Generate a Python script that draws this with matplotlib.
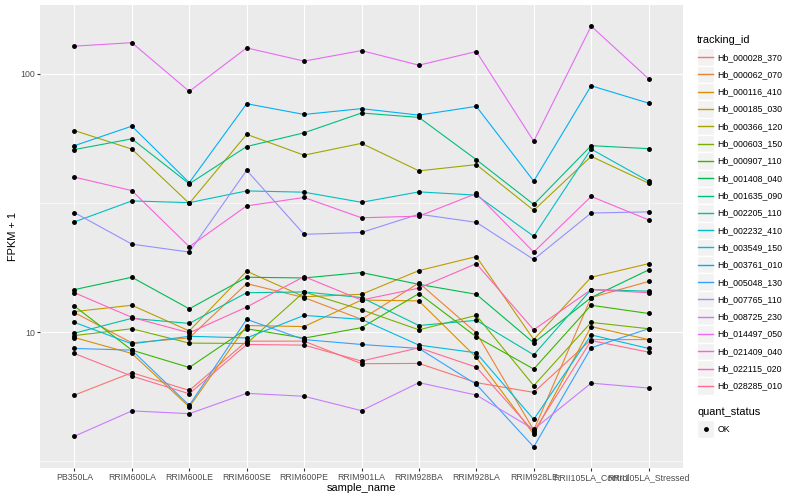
import matplotlib
matplotlib.use("Agg")
import matplotlib.pyplot as plt
from matplotlib.lines import Line2D
from matplotlib.patches import Rectangle
from matplotlib.legend_handler import HandlerBase
from matplotlib.ticker import FixedLocator, NullFormatter

plt.rcParams['font.family'] = ['Liberation Sans', 'DejaVu Sans']

# sample names on the x axis
samples = ["PB350LA", "RRIM600LA", "RRIM600LE", "RRIM600SE", "RRIM600PE",
           "RRIM901LA", "RRIM928BA", "RRIM928LA", "RRIM928LE",
           "RRII105LA_Control", "RRII105LA_Stressed"]

tracking_ids = ["Hb_000028_370", "Hb_000062_070", "Hb_000116_410", "Hb_000185_030",
                "Hb_000366_120", "Hb_000603_150", "Hb_000907_110", "Hb_001408_040",
                "Hb_001635_090", "Hb_002205_110", "Hb_002232_410", "Hb_003549_150",
                "Hb_003761_010", "Hb_005048_130", "Hb_007765_110", "Hb_008725_230",
                "Hb_014497_050", "Hb_021409_040", "Hb_022115_020", "Hb_028285_010"]

# FPKM + 1 per gene, same order as samples
hb_000028_370 = [5.70, 6.96, 5.94, 9.22, 9.22, 7.54, 7.56, 6.37, 5.84, 9.35, 9.35]
hb_000062_070 = [11.9, 9.08, 9.49, 15.4, 13.6, 11.2, 15.5, 9.93, 4.17, 13.6, 15.7]
hb_000116_410 = [9.52, 8.26, 5.13, 10.6, 10.5, 13.3, 13.2, 7.97, 4.02, 10.5, 9.35]
hb_000185_030 = [12.0, 12.7, 10.1, 17.2, 13.7, 14.0, 17.3, 19.6, 9.35, 16.3, 18.4]
hb_000366_120 = [60.3, 51.1, 31.5, 58.3, 48.4, 53.8, 42.1, 44.5, 29.6, 47.9, 37.7]
hb_000603_150 = [9.69, 10.3, 9.06, 9.03, 14.3, 12.2, 10.2, 11.6, 6.20, 10.9, 10.3]
hb_000907_110 = [12.6, 8.51, 7.29, 10.3, 9.47, 10.4, 14.1, 9.58, 7.19, 12.7, 11.8]
hb_001408_040 = [14.6, 16.3, 12.3, 16.3, 16.2, 17.0, 15.3, 14.0, 9.08, 13.6, 17.4]
hb_001635_090 = [50.9, 56.0, 37.5, 52.3, 59.1, 70.5, 67.8, 46.5, 31.2, 52.7, 51.3]
hb_002205_110 = [9.90, 11.3, 10.8, 14.2, 14.3, 13.6, 10.6, 11.1, 8.16, 14.6, 14.4]
hb_002232_410 = [26.7, 32.2, 31.7, 35.2, 34.8, 31.8, 34.9, 33.9, 23.5, 51.1, 38.4]
hb_003549_150 = [10.9, 9.00, 9.63, 9.49, 11.6, 11.2, 8.90, 8.31, 4.59, 9.75, 8.64]
hb_003761_010 = [52.7, 62.7, 37.9, 76.6, 69.6, 73.3, 69.2, 74.8, 38.4, 89.9, 77.0]
hb_005048_130 = [8.64, 8.51, 5.20, 11.2, 9.35, 8.95, 8.64, 6.27, 3.59, 8.69, 10.3]
hb_007765_110 = [29.0, 21.9, 20.4, 42.3, 23.9, 24.3, 28.6, 26.6, 19.1, 28.9, 29.2]
hb_008725_230 = [3.95, 4.95, 4.83, 5.79, 5.64, 4.96, 6.37, 5.70, 4.20, 6.34, 6.07]
hb_014497_050 = [128, 132, 85.5, 126, 112, 123, 108, 122, 54.8, 153, 95.7]
hb_021409_040 = [39.8, 35.3, 21.4, 30.8, 33.2, 27.7, 28.1, 34.4, 20.4, 33.5, 27.2]
hb_022115_020 = [14.2, 11.4, 9.93, 12.5, 16.4, 13.3, 14.8, 18.4, 10.2, 14.6, 14.2]
hb_028285_010 = [8.26, 6.75, 5.77, 8.95, 8.90, 7.72, 8.69, 7.31, 4.11, 9.27, 8.36]

series = [hb_000028_370, hb_000062_070, hb_000116_410, hb_000185_030, hb_000366_120,
          hb_000603_150, hb_000907_110, hb_001408_040, hb_001635_090, hb_002205_110,
          hb_002232_410, hb_003549_150, hb_003761_010, hb_005048_130, hb_007765_110,
          hb_008725_230, hb_014497_050, hb_021409_040, hb_022115_020, hb_028285_010]

# ggplot default hue palette for 20 levels
colors = ["#F8766D", "#EA8331", "#D89000", "#C09B00", "#A3A500", "#7CAE00", "#39B600",
          "#00BB4E", "#00BF7D", "#00C1A3", "#00BFC4", "#00BAE0", "#00B0F6", "#35A2FF",
          "#9590FF", "#C77CFF", "#E76BF3", "#FA62DB", "#FF62BC", "#FF6C91"]


# legend key like ggplot: grey square with a line or a point on it
class KeyHandler(HandlerBase):
    def create_artists(self, legend, orig_handle, xdescent, ydescent,
                       width, height, fontsize, trans):
        x0, y0 = -xdescent, -ydescent
        rect = Rectangle((x0, y0), width, height, facecolor="#F2F2F2",
                         edgecolor="white", lw=1.0, transform=trans)
        if orig_handle.get_marker() not in (None, "None", ""):
            mark = Line2D([x0 + width / 2], [y0 + height / 2], marker="o",
                          markersize=2.5, color="black", linestyle="None",
                          transform=trans)
        else:
            mark = Line2D([x0 + width * 0.06, x0 + width * 0.94],
                          [y0 + height / 2, y0 + height / 2],
                          color=orig_handle.get_color(), lw=1.0, transform=trans)
        return [rect, mark]


fig = plt.figure(figsize=(8, 5), dpi=100)
ax = fig.add_axes([40 / 800, 32 / 500, 643 / 800, 463 / 500])
ax.set_facecolor("#EBEBEB")

x = list(range(len(samples)))
for vals, col, name in zip(series, colors, tracking_ids):
    ax.plot(x, vals, color=col, lw=0.8, label=name, zorder=2)
for vals in series:
    ax.plot(x, vals, linestyle="None", marker="o", markersize=2.5,
            color="black", zorder=3)

ax.set_yscale("log")
ax.set_xlim(-0.6, len(samples) - 0.4)
ax.set_ylim(10 ** 0.4735, 10 ** 2.2665)
ax.set_xticks(x)
ax.set_xticklabels(samples)
ax.yaxis.set_major_locator(FixedLocator([10, 100]))
ax.set_yticklabels(["10", "100"])
ax.yaxis.set_minor_locator(FixedLocator([10 ** 0.5, 10 ** 1.5, 10 ** 2.5]))
ax.yaxis.set_minor_formatter(NullFormatter())

for s in ax.spines.values():
    s.set_visible(False)
ax.tick_params(which="major", length=2, width=0.8, color="#333333",
               labelcolor="#4D4D4D", labelsize=6.3, pad=1.6)
ax.tick_params(which="minor", length=0)
ax.grid(which="major", color="white", lw=0.8)
ax.grid(which="minor", axis="y", color="white", lw=0.4)
ax.set_axisbelow(True)

ax.set_xlabel("sample_name", fontsize=7.9, labelpad=0.5)
ax.set_ylabel("FPKM + 1", fontsize=7.9, labelpad=1.5)

legend_style = dict(loc="upper left", bbox_transform=fig.transFigure,
                    frameon=False, fontsize=6.3, title_fontsize=7.9,
                    handlelength=1.98, handleheight=2.666, labelspacing=0,
                    handletextpad=0.35, borderpad=0, borderaxespad=0,
                    alignment="left", handler_map={Line2D: KeyHandler()})

line_handles = [Line2D([], [], color=c) for c in colors]
leg1 = ax.legend(line_handles, tracking_ids, title="tracking_id",
                 bbox_to_anchor=(697 / 800, 1 - 35 / 500), **legend_style)
leg1._legend_box.sep = 2.5
ax.add_artist(leg1)

ok_handle = Line2D([], [], marker="o", color="black", linestyle="None")
leg2 = ax.legend([ok_handle], ["OK"], title="quant_status",
                 bbox_to_anchor=(697 / 800, 1 - 407 / 500), **legend_style)
leg2._legend_box.sep = 2.5

fig.savefig("out.png", dpi=100)
